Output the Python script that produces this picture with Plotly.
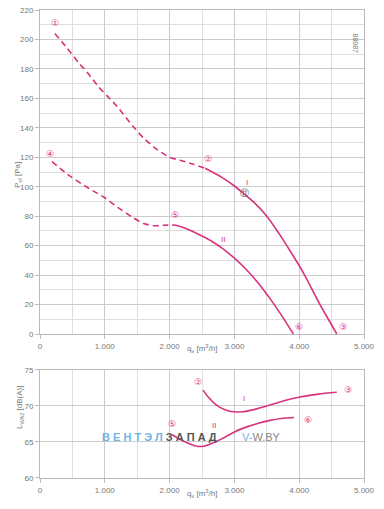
import plotly.graph_objects as go

# ---- data ----
x_tick_vals = [0, 1000, 2000, 3000, 4000, 5000]
x_tick_text = ["0", "1.000", "2.000", "3.000", "4.000", "5.000"]
p_tick_vals = [0, 20, 40, 60, 80, 100, 120, 140, 160, 180, 200, 220]
l_tick_vals = [60, 65, 70, 75]

# pressure curve I
q_I_dash = [230, 420, 600, 740, 900, 1050, 1190, 1435, 1600, 1800, 2000, 2160, 2350, 2550]
p_I_dash = [204, 194, 184, 177, 168, 161, 154.5, 141, 133, 125.5, 120, 118, 115.5, 112.5]
q_I_solid = [2550, 2800, 3000, 3133, 3300, 3500, 3700, 3880, 4059, 4190, 4321, 4450, 4580]
p_I_solid = [112.5, 106.5, 100.5, 95.7, 89.5, 80, 67.5, 55, 42, 31, 20, 10, 0]

# pressure curve II
q_II_dash = [185, 470, 750, 1000, 1200, 1435, 1600, 1750, 1900, 2080]
p_II_dash = [117, 107, 99, 92.5, 86, 79, 75, 73.5, 73.8, 74]
q_II_solid = [2080, 2200, 2350, 2500, 2650, 2820, 3000, 3190, 3370, 3550, 3730, 3910]
p_II_solid = [74, 72.5, 69.8, 66.5, 63, 58, 51.5, 43.5, 34.5, 24, 12.5, 0]

# sound power curves
q_LI = [2515, 2600, 2700, 2800, 2900, 3000, 3120, 3300, 3500, 3750, 4010, 4300, 4580]
l_LI = [72.2, 71.2, 70.3, 69.7, 69.35, 69.2, 69.2, 69.5, 70.0, 70.7, 71.25, 71.65, 71.9]
q_LII = [2040, 2150, 2270, 2400, 2520, 2650, 2820, 3000, 3190, 3370, 3550, 3750, 3920]
l_LII = [66.0, 65.4, 64.9, 64.45, 64.4, 64.8, 65.5, 66.4, 67.1, 67.6, 68.0, 68.3, 68.4]

# point labels
p_lab_q = [230, 2590, 4680, 155, 2080, 4000]
p_lab_p = [211, 118, 4, 121.5, 80, 4]
p_lab_t = ["①", "②", "③", "④", "⑤", "⑥"]
l_lab_q = [2440, 4750, 2040, 4140]
l_lab_l = [73.2, 72.1, 67.4, 68.0]
l_lab_t = ["②", "③", "⑤", "⑥"]
op_q, op_p = [3160], [95]

PINK = "#d9327c"
GRID = "#cccccc"
GRID_MINOR = "#dedede"
TICKC = "#777777"
FONT = "Arial, Liberation Sans"
DASH = "6px,4px"

fig = go.Figure()

def line(x, y, dash, xa="x", ya="y"):
    fig.add_trace(go.Scatter(x=x, y=y, mode="lines", xaxis=xa, yaxis=ya,
                             line=dict(color=PINK, width=1.6, dash=dash, shape="spline", smoothing=0.6),
                             hoverinfo="skip", showlegend=False))

line(q_I_dash, p_I_dash, DASH)
line(q_I_solid, p_I_solid, "solid")
line(q_II_dash, p_II_dash, DASH)
line(q_II_solid, p_II_solid, "solid")
line(q_LI, l_LI, "solid", "x2", "y2")
line(q_LII, l_LII, "solid", "x2", "y2")

fig.add_trace(go.Scatter(x=p_lab_q, y=p_lab_p, mode="text", text=p_lab_t,
                         textfont=dict(color=PINK, size=9), showlegend=False, hoverinfo="skip"))
fig.add_trace(go.Scatter(x=op_q, y=op_p, mode="text", text=["⑪"],
                         textfont=dict(color="#666666", size=9), showlegend=False, hoverinfo="skip"))
fig.add_trace(go.Scatter(x=l_lab_q, y=l_lab_l, mode="text", text=l_lab_t, xaxis="x2", yaxis="y2",
                         textfont=dict(color=PINK, size=9), showlegend=False, hoverinfo="skip"))

# roman numerals
fig.add_annotation(x=3200, y=103, text="I", showarrow=False, font=dict(color=PINK, size=8))
fig.add_annotation(x=2830, y=64.5, text="II", showarrow=False, font=dict(color=PINK, size=8))
fig.add_annotation(x=3150, y=71, text="I", showarrow=False, font=dict(color=PINK, size=8), xref="x2", yref="y2")
fig.add_annotation(x=2680, y=67.3, text="II", showarrow=False, font=dict(color=PINK, size=8), xref="x2", yref="y2")

axis_common = dict(showline=True, mirror=True, linecolor="#bbbbbb", linewidth=1, automargin=False,
                   gridcolor=GRID, gridwidth=1, ticks="outside", ticklen=4, tickcolor="#bbbbbb",
                   ticklabeloverflow="allow",
                   tickfont=dict(size=8, color=TICKC, family=FONT), zeroline=False)

fig.update_layout(
    width=384, height=509, margin=dict(l=40, r=20, t=10, b=31),
    plot_bgcolor="white", paper_bgcolor="white",
    font=dict(family=FONT, color=TICKC),
    xaxis=dict(domain=[0, 1], range=[0, 5000], tickmode="array", tickvals=x_tick_vals, ticktext=x_tick_text,
               anchor="y", minor=dict(dtick=500, tick0=0, showgrid=True, gridcolor=GRID_MINOR, ticklen=0),
               **axis_common),
    yaxis=dict(domain=[0.3077, 1], range=[0, 220], tickmode="array", tickvals=p_tick_vals, anchor="x",
               minor=dict(dtick=10, tick0=0, showgrid=True, gridcolor=GRID_MINOR, ticklen=0),
               **axis_common),
    xaxis2=dict(domain=[0, 1], range=[0, 5000], tickmode="array", tickvals=x_tick_vals, ticktext=x_tick_text,
                anchor="y2", minor=dict(dtick=500, tick0=0, showgrid=True, gridcolor=GRID_MINOR, ticklen=0),
                **axis_common),
    yaxis2=dict(domain=[0, 0.2308], range=[60, 75], tickmode="array", tickvals=l_tick_vals, anchor="x2",
                **axis_common),
)

def px_x(px):
    return (px - 40) / 324

def px_y(py):
    return (478 - py) / 468

# axis titles
fig.add_annotation(xref="paper", yref="paper", x=px_x(11), y=px_y(175), textangle=-90,
                   text="P<sub>sf</sub> [Pa]", showarrow=False, font=dict(size=8, color=TICKC))
fig.add_annotation(xref="paper", yref="paper", x=px_x(13), y=px_y(431), textangle=-90,
                   text="L<sub>WA2</sub> [dB(A)]", showarrow=False, font=dict(size=8, color=TICKC))
fig.add_annotation(xref="paper", yref="paper", x=px_x(202), y=px_y(356),
                   text="q<sub>v</sub> [m<sup>3</sup>/h]", showarrow=False, font=dict(size=8, color=TICKC))
fig.add_annotation(xref="paper", yref="paper", x=px_x(202), y=px_y(501),
                   text="q<sub>v</sub> [m<sup>3</sup>/h]", showarrow=False, font=dict(size=8, color=TICKC))

# id number
fig.add_annotation(xref="paper", yref="paper", x=px_x(360), y=px_y(31), textangle=90,
                   text="88087", showarrow=False, font=dict(size=7, color="#777777"))

# watermark
fig.add_annotation(xref="paper", yref="paper", x=px_x(100), y=px_y(445), xanchor="left",
                   text="<b><span style='color:#6fb3e6'>В Е Н Т Э Л</span><span style='color:#555555'> З А П А Д</span></b>",
                   showarrow=False, font=dict(size=11, family=FONT))
fig.add_annotation(xref="paper", yref="paper", x=px_x(240), y=px_y(445), xanchor="left",
                   text="<span style='color:#6fb3e6'>V-</span><span style='color:#888888'>W.BY</span>",
                   showarrow=False, font=dict(size=11, family=FONT))

# remove the default 8px body margin so the figure fills the window exactly
fig.write_html("out.html", config={"displayModeBar": False},
               post_script="document.body.style.margin='0';")
